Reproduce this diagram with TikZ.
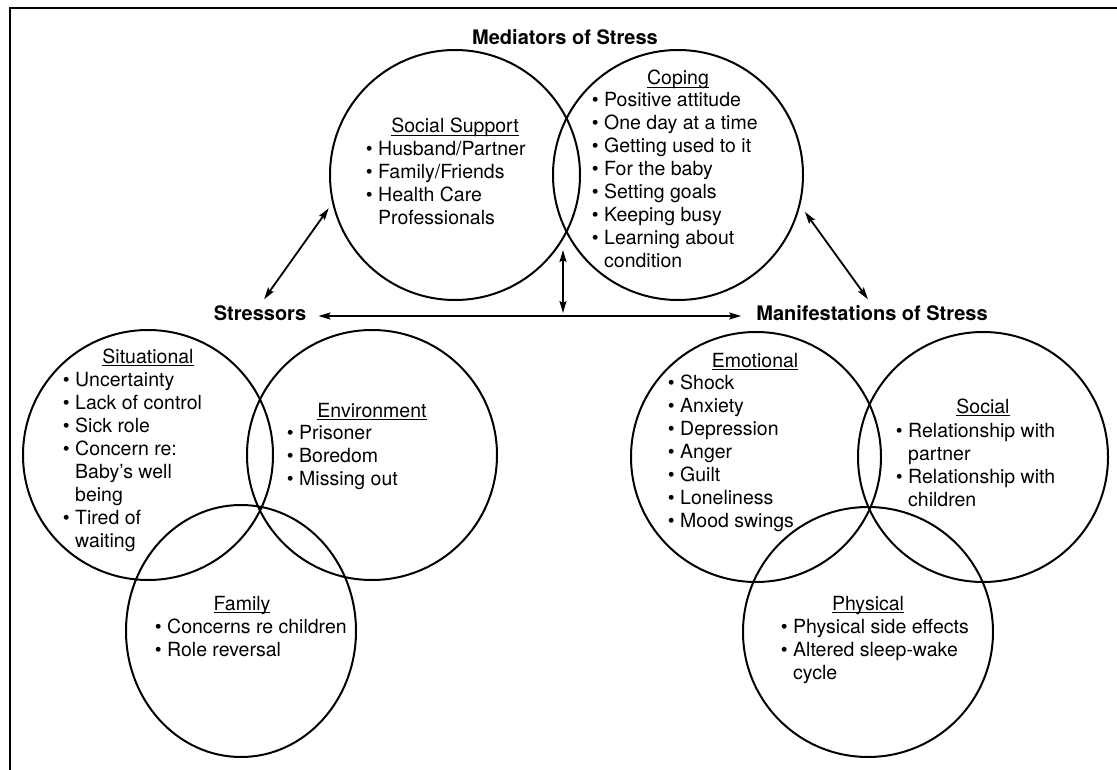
\documentclass[tikz,border=0pt]{standalone}
\usepackage{fontspec}
\setmainfont{TeX Gyre Heros}
\usetikzlibrary{arrows.meta,shapes.geometric}

% underlined heading whose rule runs through the descenders
\newsavebox\ttlbox
\newcommand\ttl[1]{\sbox\ttlbox{#1}\rlap{\rule[-3pt]{\wd\ttlbox}{0.9pt}}\usebox\ttlbox}
% hanging bullet
\newcommand\bul{\llap{\textbullet\ }}
% list whose baseline is its first line
\newcommand\lst[1]{\begin{tabular}[t]{@{}l@{}}#1\end{tabular}}

\begin{document}
\begin{tikzpicture}[x=1pt,y=-1pt,
  every node/.style={inner sep=0pt, font=\fontsize{19.5}{23}\selectfont},
  ring/.style={draw, circle, minimum size=250pt, line width=2pt},
  oval/.style={draw, ellipse, minimum width=230pt, minimum height=252pt, line width=2pt},
  heading/.style={anchor=base, font=\bfseries\fontsize{20}{24}\selectfont},
  title/.style={anchor=base},
  items/.style={anchor=base west},
  dbl/.style={{Stealth[length=12pt,width=7pt,inset=2pt]}-{Stealth[length=12pt,width=7pt,inset=2pt]}, line width=1.8pt},
]
\useasboundingbox (0,0) rectangle (1117,770);

% frame
\draw[line width=2.2pt] (10,770) -- (10,8) -- (1117,8);

% mediators
\node[ring] (soc) at (455,175) {};
\node[ring] (cop) at (678,175) {};
% stressors
\node[ring] (sit) at (148,455) {};
\node[ring] (env) at (372,455) {};
\node[oval] (fam) at (241,631) {};
% manifestations
\node[ring] (emo) at (756,457) {};
\node[ring] (scl) at (983,457) {};
\node[ring] (phy) at (868,632) {};

% group headings
\node[heading] (med) at (565,45) {Mediators of Stress};
\node[heading] (str) at (260,320) {Stressors};
\node[heading] (man) at (872,320) {Manifestations of Stress};

% circle titles
\node[title] (tsoc) at (455,133) {\ttl{Social Support}};
\node[title] (tcop) at (678,85) {\ttl{Coping}};
\node[title] (tsit) at (148,363) {\ttl{Situational}};
\node[title] (tenv) at (372,417) {\ttl{Environment}};
\node[title] (tfam) at (242,610) {\ttl{Family}};
\node[title] (temo) at (755,367) {\ttl{Emotional}};
\node[title] (tscl) at (983,413) {\ttl{Social}};
\node[title] (tphy) at (868,610) {\ttl{Physical}};

% circle contents
\node[items] (lsoc) at (378,156) {\lst{\bul Husband/Partner\\ \bul Family/Friends\\ \bul Health Care\\ Professionals}};
\node[items] (lcop) at (604,107) {\lst{\bul Positive attitude\\ \bul One day at a time\\ \bul Getting used to it\\ \bul For the baby\\ \bul Setting goals\\ \bul Keeping busy\\ \bul Learning about\\ condition}};
\node[items] (lsit) at (75,386) {\lst{\bul Uncertainty\\ \bul Lack of control\\ \bul Sick role\\ \bul Concern re:\\ Baby's well\\ being\\ \bul Tired of\\ waiting}};
\node[items] (lenv) at (299,439) {\lst{\bul Prisoner\\ \bul Boredom\\ \bul Missing out}};
\node[items] (lfam) at (167,633) {\lst{\bul Concerns re children\\ \bul Role reversal}};
\node[items] (lemo) at (680,389) {\lst{\bul Shock\\ \bul Anxiety\\ \bul Depression\\ \bul Anger\\ \bul Guilt\\ \bul Loneliness\\ \bul Mood swings}};
\node[items] (lscl) at (908,437) {\lst{\bul Relationship with\\ partner\\ \bul Relationship with\\ children}};
\node[items] (lphy) at (793,633) {\lst{\bul Physical side effects\\ \bul Altered sleep-wake\\ cycle}};

% connectors
\coordinate (vt) at (563,250);
\coordinate (vb) at (563,313);
\draw[dbl, shorten <=6pt, shorten >=7pt] (soc.193) -- (str.north);
\draw[dbl, shorten <=8pt, shorten >=7pt] (cop.-14) -- (man.north);
\draw[dbl, shorten <=12pt, shorten >=15pt] ([yshift=4pt]str.base east) -- ([yshift=4pt]man.base west);
\draw[dbl] (vt) -- (vb);
\end{tikzpicture}
\end{document}
